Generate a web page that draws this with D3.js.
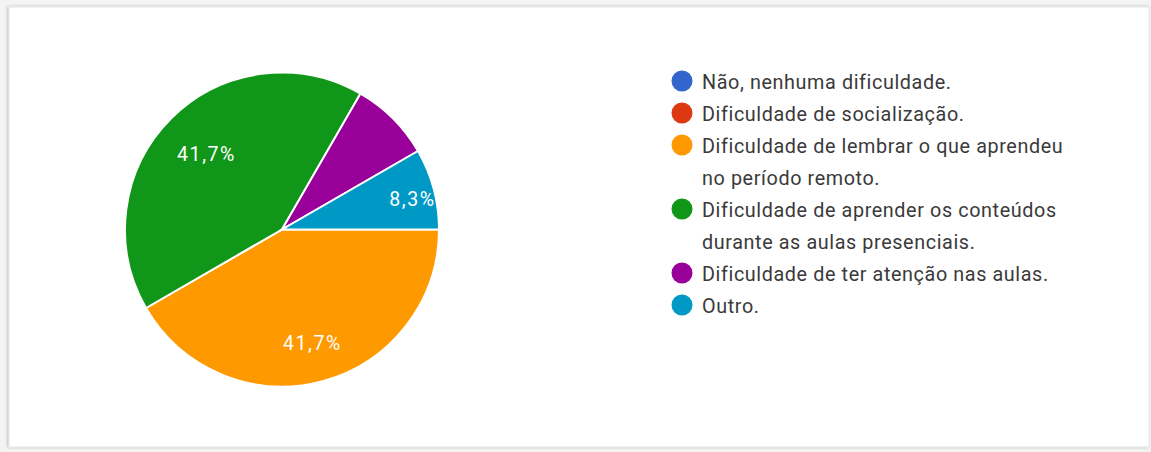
<!DOCTYPE html>
<html>
<head>
<meta charset="utf-8">
<script src="https://cdn.jsdelivr.net/npm/d3@7/dist/d3.min.js"></script>
<style>
  html, body { margin: 0; padding: 0; background: #f4f4f4; }
  svg { display: block; }
  text { font-family: Roboto, "Noto Sans", Arial, sans-serif; }
</style>
</head>
<body>
<svg id="chart" width="1151" height="452"></svg>
<script>
// Survey answers (response counts) and their legend labels
const categories = [
  ["Não, nenhuma dificuldade."],
  ["Dificuldade de socialização."],
  ["Dificuldade de lembrar o que aprendeu", "no período remoto."],
  ["Dificuldade de aprender os conteúdos", "durante as aulas presenciais."],
  ["Dificuldade de ter atenção nas aulas."],
  ["Outro."]
];
const counts = [0, 0, 5, 5, 1, 1];
const colors = ["#3366cc", "#dc3912", "#ff9900", "#109618", "#990099", "#0099c6"];

const svg = d3.select("#chart");

// card with a soft shadow
const defs = svg.append("defs");
const f = defs.append("filter").attr("id", "shadow")
  .attr("x", "-5%").attr("y", "-5%").attr("width", "110%").attr("height", "110%");
f.append("feDropShadow").attr("dx", -1).attr("dy", 0).attr("stdDeviation", 1.5)
  .attr("flood-color", "#000").attr("flood-opacity", 0.25);
svg.append("rect")
  .attr("x", 9).attr("y", 7).attr("width", 1140).attr("height", 440)
  .attr("fill", "#fff").attr("stroke", "#e6e6e6").attr("stroke-width", 1)
  .attr("filter", "url(#shadow)");

// pie, starting at 3 o'clock and running clockwise
const cx = 282, cy = 229.5, r = 157;
const total = d3.sum(counts);
const data = counts.map((v, i) => ({ i, v }));
const pie = d3.pie().value(d => d.v).sort(null)
  .startAngle(Math.PI / 2).endAngle(Math.PI / 2 + 2 * Math.PI);
const arcs = pie(data).filter(a => a.data.v > 0);
const arc = d3.arc().innerRadius(0).outerRadius(r);

const g = svg.append("g").attr("transform", `translate(${cx},${cy})`);
g.selectAll("path.slice").data(arcs).join("path")
  .attr("class", "slice")
  .attr("d", arc)
  .attr("fill", d => colors[d.data.i])
  .attr("stroke", "#fff").attr("stroke-width", 2);

// percentage labels; narrow slices push their label outward
const fmt = v => (v * 100).toFixed(1).replace(".", ",") + "%";
const labelRadius = a => {
  const span = a.endAngle - a.startAngle;
  return span < 0.6 ? 0.86 : (a.data.i === 3 ? 0.68 : 0.75);
};
const labelled = arcs.filter(a => a.data.i !== 4);
g.selectAll("text.pct").data(labelled).join("text")
  .attr("class", "pct")
  .attr("transform", a => {
    const m = (a.startAngle + a.endAngle) / 2;
    const rr = r * labelRadius(a);
    const narrow = (a.endAngle - a.startAngle) < 0.6;
    return `translate(${Math.sin(m) * rr},${-Math.cos(m) * rr + (narrow ? 5 : 0)})`;
  })
  .attr("text-anchor", "middle").attr("dy", "0.35em")
  .attr("fill", "#fff").attr("font-size", 19.5)
  .attr("letter-spacing", 1.6)
  .text(a => fmt(a.data.v / total));

// legend
const legend = svg.append("g").attr("transform", "translate(682,0)");
const lineH = 32;
let line = 0;
categories.forEach((lines, i) => {
  const baseY = 89 + line * lineH;
  legend.append("circle").attr("cx", 0).attr("cy", baseY - 8).attr("r", 10.5)
    .attr("fill", colors[i]);
  lines.forEach((t, k) => {
    legend.append("text").attr("x", 20).attr("y", baseY + k * lineH)
      .attr("font-size", 19.8).attr("letter-spacing", 0.6)
      .attr("fill", "#3a3a3a").text(t);
  });
  line += lines.length;
});
</script>
</body>
</html>
